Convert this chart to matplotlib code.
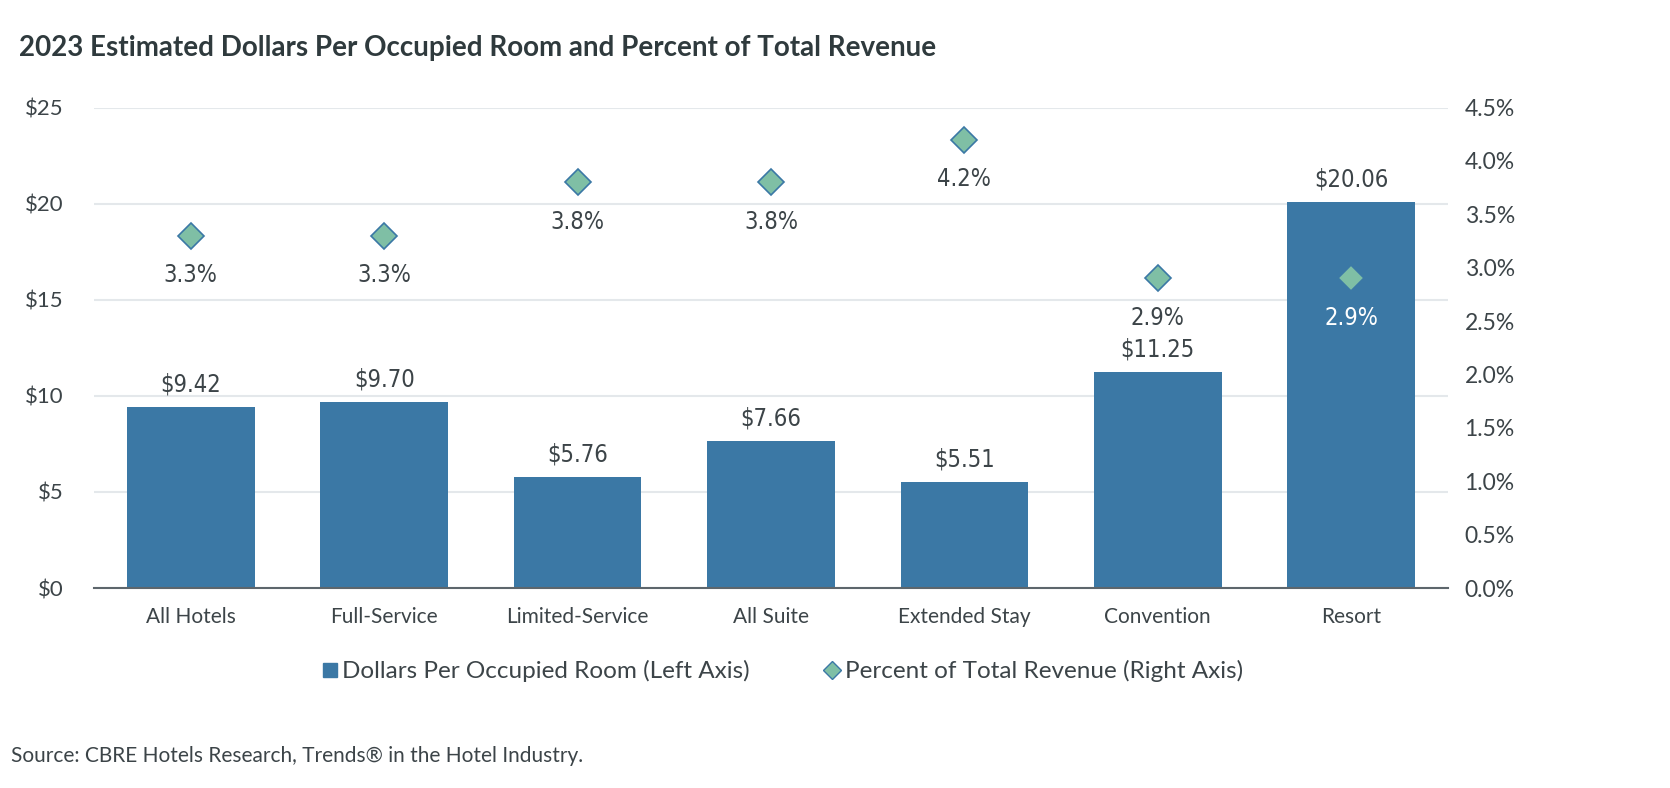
import matplotlib
matplotlib.use("Agg")
import matplotlib.pyplot as plt
from matplotlib.lines import Line2D

categories = ["All Hotels", "Full-Service", "Limited-Service", "All Suite", "Extended Stay", "Convention", "Resort"]
dollars = [9.42, 9.70, 5.76, 7.66, 5.51, 11.25, 20.06]
percent = [3.3, 3.3, 3.8, 3.8, 4.2, 2.9, 2.9]
left_ticks = [0, 5, 10, 15, 20, 25]
right_ticks = [0.0, 0.5, 1.0, 1.5, 2.0, 2.5, 3.0, 3.5, 4.0, 4.5]

BAR = "#3b78a5"
DIA = "#7fbfa5"
TXT = "#3c4448"
GRID = "#e4e8eb"

plt.rcParams['font.family'] = ['Lato', 'DejaVu Sans']

fig = plt.figure(figsize=(16.7, 7.88), dpi=100)
ax = fig.add_axes([0.0563, 0.2538, 0.8107, 0.6097])
ax2 = ax.twinx()

x = list(range(len(categories)))
ax.bar(x, dollars, width=0.66, color=BAR, zorder=2)
ax.set_xlim(-0.5, len(categories) - 0.5)
ax.set_ylim(0, 25)
ax.set_yticks(left_ticks)
ax.set_yticklabels([f"${v}" for v in left_ticks])
ax.yaxis.grid(True, color=GRID, lw=1.5, zorder=0)
ax.set_axisbelow(True)
for s in ["top", "right", "left"]:
    ax.spines[s].set_visible(False)
ax.spines["bottom"].set_color("#5d666c")
ax.spines["bottom"].set_linewidth(1.5)
ax.tick_params(axis="y", length=0, pad=22, labelsize=16, labelcolor=TXT)
ax.tick_params(axis="x", length=0, pad=14, labelsize=15, labelcolor=TXT)
ax.set_xticks(x)
ax.set_xticklabels(categories)

for xi, v in zip(x, dollars):
    ax.text(xi, v + 0.55, f"${v:.2f}", ha="center", va="bottom", fontsize=17,
            color=TXT, family="DejaVu Sans", fontstretch="condensed")

ax2.set_ylim(0, 4.5)
ax2.set_yticks(right_ticks)
ax2.set_yticklabels([f"{v:.1f}%" for v in right_ticks])
for s in ["top", "right", "left", "bottom"]:
    ax2.spines[s].set_visible(False)
ax2.tick_params(axis="y", length=0, pad=12, labelsize=16.5, labelcolor=TXT)
ax2.plot(x, percent, linestyle="none", marker="D", markersize=13,
         markerfacecolor=DIA, markeredgecolor=BAR, markeredgewidth=1.2, zorder=3)
for xi, p, d in zip(x, percent, dollars):
    inside = d / 25 * 4.5 > p
    ax2.text(xi, p - 0.26, f"{p:.1f}%", ha="center", va="top", fontsize=17,
             color="white" if inside else TXT, family="DejaVu Sans", fontstretch="condensed")

fig.text(0.0114, 0.939, "2023 Estimated Dollars Per Occupied Room and Percent of Total Revenue",
         fontsize=20, fontweight="bold", color="#2f3a3d", va="center", ha="left")

handles = [
    Line2D([], [], linestyle="none", marker="s", markersize=10, markerfacecolor=BAR, markeredgecolor=BAR),
    Line2D([], [], linestyle="none", marker="D", markersize=9, markerfacecolor=DIA, markeredgecolor=BAR),
]
leg = fig.legend(handles, ["Dollars Per Occupied Room (Left Axis)", "Percent of Total Revenue (Right Axis)"],
                 loc="center", bbox_to_anchor=(0.468, 0.148), ncol=2, frameon=False,
                 fontsize=17.5, handletextpad=0.1, columnspacing=3.0, handlelength=0.8)
for t in leg.get_texts():
    t.set_color(TXT)

fig.text(0.0066, 0.041, "Source: CBRE Hotels Research, Trends\u00ae in the Hotel Industry.",
         fontsize=15, color=TXT, va="center", ha="left")

fig.savefig("out.png", dpi=100, facecolor="white")
